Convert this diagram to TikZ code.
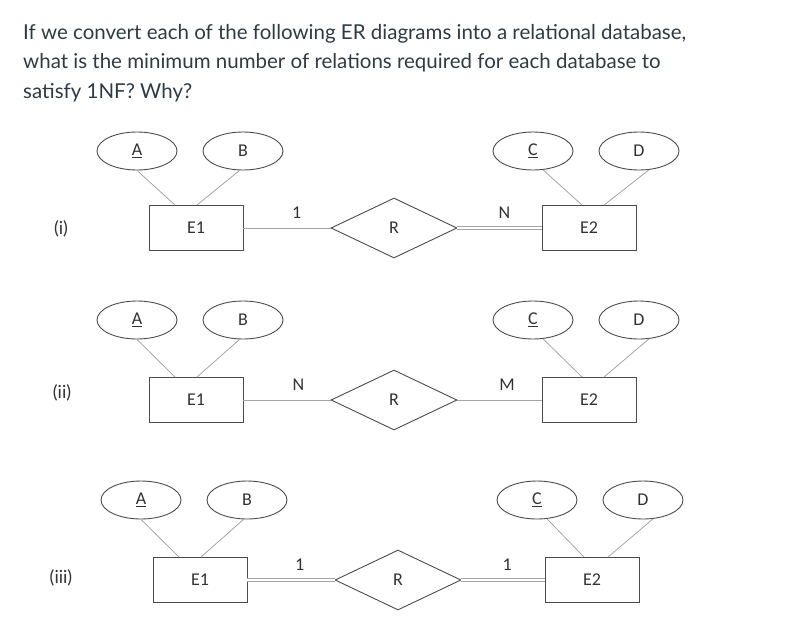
\documentclass[tikz,border=0pt]{standalone}
\usepackage{fontspec}
\setmainfont{Lato}
\newfontfamily\erfont{Carlito}
\usetikzlibrary{shapes.geometric}
\definecolor{titlegray}{RGB}{45,59,69}
\definecolor{edgegray}{RGB}{75,75,75}
\definecolor{linkgray}{RGB}{165,165,165}
\definecolor{labelgray}{RGB}{50,50,50}

\begin{document}
\begin{tikzpicture}[x=1pt, y=-1pt,
    entity/.style={draw=edgegray, line width=0.9pt, minimum width=94pt, minimum height=45pt, inner sep=0pt, font=\erfont\fontsize{18}{18}\selectfont, text=labelgray},
    attr/.style={ellipse, draw=edgegray, line width=0.9pt, minimum width=80pt, minimum height=38pt, inner sep=0pt, font=\erfont\fontsize{18}{18}\selectfont, text=labelgray},
    rel/.style={diamond, draw=edgegray, line width=0.9pt, minimum width=126pt, minimum height=60pt, inner sep=0pt, font=\erfont\fontsize{18}{18}\selectfont, text=labelgray},
    link/.style={draw=linkgray, line width=0.8pt},
    dlink/.style={draw=linkgray, line width=0.7pt, double=white, double distance=2.4pt},
    card/.style={above, inner sep=3pt, yshift=6pt, font=\erfont\fontsize{18}{18}\selectfont, text=labelgray},
    rowlabel/.style={font=\fontsize{18}{18}\selectfont, text=labelgray}
]
\useasboundingbox (0,0) rectangle (799,621);

\node[anchor=north west, align=left, inner sep=0pt, text=titlegray, font=\fontsize{20.5}{29.5}\selectfont] (question) at (23,24)
  {If we convert each of the following ER diagrams into a relational database,\\
   what is the minimum number of relations required for each database to\\
   satisfy 1NF? Why?};

% (i)
\node[rowlabel] (row1) at (61,229) {(i)};
\node[attr] (a1) at (137,151) {\underline{A}};
\node[attr] (b1) at (243,151) {B};
\node[attr] (c1) at (533,151) {\underline{C}};
\node[attr] (d1) at (639,151) {D};
\node[entity] (ea1) at (196,228) {E1};
\node[entity] (eb1) at (589,228) {E2};
\node[rel] (r1) at (394,228) {R};
\draw[link] (a1.south) -- ([xshift=-21pt]ea1.north);
\draw[link] (b1.-100) -- ([xshift=1pt]ea1.north);
\draw[link] (c1.-62) -- ([xshift=-7pt]eb1.north);
\draw[link] (d1.-62) -- ([xshift=15pt]eb1.north);
\draw[link] (ea1.east) -- node[card, pos=0.61] {1} (r1.west);
\draw[dlink] (r1.east) -- node[card, pos=0.56] {N} (eb1.west);

% (ii)
\node[rowlabel] (row2) at (62,393) {(ii)};
\node[attr] (a2) at (137,320) {\underline{A}};
\node[attr] (b2) at (243,320) {B};
\node[attr] (c2) at (533,320) {\underline{C}};
\node[attr] (d2) at (639,320) {D};
\node[entity] (ea2) at (196,400) {E1};
\node[entity] (eb2) at (589,400) {E2};
\node[rel] (r2) at (394,400) {R};
\draw[link] (a2.south) -- ([xshift=-21pt]ea2.north);
\draw[link] (b2.-100) -- ([xshift=1pt]ea2.north);
\draw[link] (c2.-62) -- ([xshift=-7pt]eb2.north);
\draw[link] (d2.-62) -- ([xshift=15pt]eb2.north);
\draw[link] (ea2.east) -- node[card, pos=0.63] {N} (r2.west);
\draw[link] (r2.east) -- node[card, pos=0.59] {M} (eb2.west);

% (iii)
\node[rowlabel] (row3) at (61,578) {(iii)};
\node[attr] (a3) at (141,500) {\underline{A}};
\node[attr] (b3) at (247,500) {B};
\node[attr] (c3) at (537,500) {\underline{C}};
\node[attr] (d3) at (643,500) {D};
\node[entity] (ea3) at (200,580) {E1};
\node[entity] (eb3) at (592,580) {E2};
\node[rel] (r3) at (398,580) {R};
\draw[link] (a3.south) -- ([xshift=-21pt]ea3.north);
\draw[link] (b3.-100) -- ([xshift=1pt]ea3.north);
\draw[link] (c3.-62) -- ([xshift=-8pt]eb3.north);
\draw[link] (d3.-62) -- ([xshift=16pt]eb3.north);
\draw[dlink] (ea3.east) -- node[card, pos=0.60] {1} (r3.west);
\draw[dlink] (r3.east) -- node[card, pos=0.55] {1} (eb3.west);
\end{tikzpicture}
\end{document}
